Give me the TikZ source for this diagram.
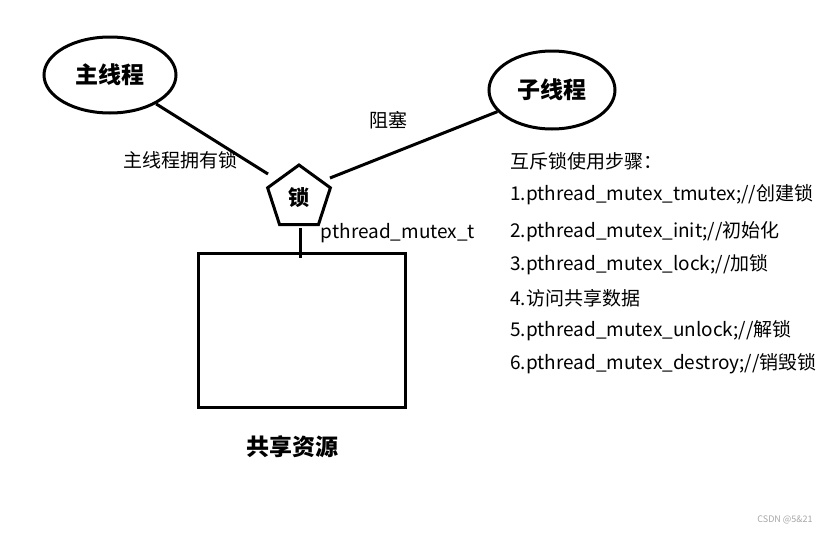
\documentclass[tikz,border=0pt]{standalone}
\usepackage{fontspec}
\setmainfont{Noto Sans CJK SC}
\usetikzlibrary{shapes.geometric}
\begin{document}
\begin{tikzpicture}[x=1pt,y=-1pt,
  thick3/.style={line width=3pt},
  lbl/.style={font=\fontsize{19}{22}\selectfont,inner sep=0pt},
  step item/.style={font=\fontsize{19}{22}\selectfont,inner sep=0pt,anchor=west}]
\path[use as bounding box] (0,0) rectangle (831,533);
\node[thick3,draw,ellipse,minimum width=132pt,minimum height=76pt,font=\fontsize{23}{26}\selectfont\bfseries] (main) at (110,75) {主线程};
\node[thick3,draw,ellipse,minimum width=126pt,minimum height=78pt,font=\fontsize{23}{26}\selectfont\bfseries] (sub) at (552,90) {子线程};
\node[thick3,draw,regular polygon,regular polygon sides=5,minimum size=66pt,inner sep=0pt,font=\fontsize{21}{24}\selectfont\bfseries] (lock) at (299,198) {锁};
\node[thick3,draw,minimum width=207pt,minimum height=154pt,inner sep=0pt] (res) at (301.5,330) {};
\coordinate (la) at (268,174);
\coordinate (lb) at (330,178);
\coordinate (lc) at (300,228);
\coordinate (ld) at (300,258);
\draw[thick3] (main) -- (la);
\draw[thick3] (lb) -- (sub);
\draw[thick3] (lc) -- (ld);
\node[font=\fontsize{23}{26}\selectfont\bfseries] (rl) at (292,447) {共享资源};
\node[lbl] (t1) at (388,120) {阻塞};
\node[lbl] (t2) at (180,160) {主线程拥有锁};
\node[lbl] (t3) at (398,233) {pthread\_mutex\_t};
\node[step item] (s0) at (510,161) {互斥锁使用步骤：};
\node[step item] (s1) at (510,195) {1.pthread\_mutex\_tmutex;//创建锁};
\node[step item] (s2) at (510,232) {2.pthread\_mutex\_init;//初始化};
\node[step item] (s3) at (510,265) {3.pthread\_mutex\_lock;//加锁};
\node[step item] (s4) at (510,298) {4.访问共享数据};
\node[step item] (s5) at (510,331) {5.pthread\_mutex\_unlock;//解锁};
\node[step item] (s6) at (510,364) {6.pthread\_mutex\_destroy;//销毁锁};
\node[font=\fontsize{9}{10}\selectfont,text=gray!70] (wm) at (785,520) {CSDN @5\&21};
\end{tikzpicture}
\end{document}
